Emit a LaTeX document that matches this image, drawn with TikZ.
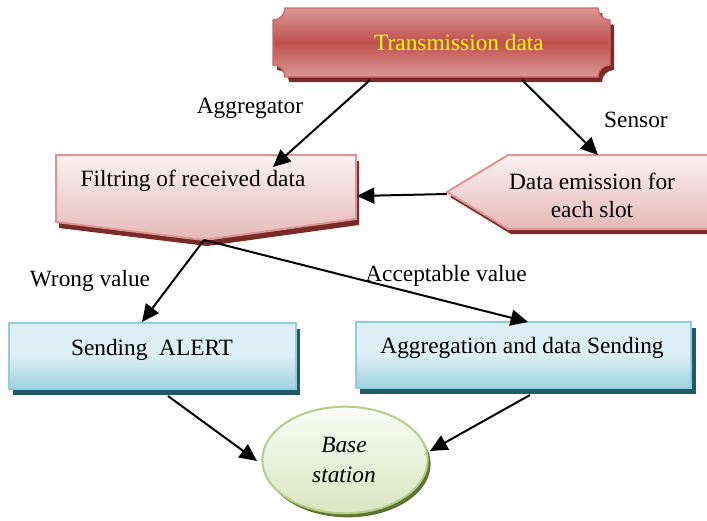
\documentclass[tikz,border=0pt]{standalone}
\usepackage{fontspec}
\setmainfont{Liberation Serif}
\usetikzlibrary{arrows.meta}
\definecolor{plaqueLight}{HTML}{DA9896}
\definecolor{plaqueDark}{HTML}{C0504D}
\definecolor{redShadow}{HTML}{7A2A28}
\definecolor{pinkTop}{HTML}{FBF1F1}
\definecolor{pinkBot}{HTML}{E6B9B8}
\definecolor{pinkEdge}{HTML}{D99694}
\definecolor{blueTop}{HTML}{DDEFF4}
\definecolor{blueBot}{HTML}{9ED2E0}
\definecolor{blueEdge}{HTML}{93CDDD}
\definecolor{blueShadow}{HTML}{215967}
\definecolor{greenTop}{HTML}{FAFCF6}
\definecolor{greenBot}{HTML}{D9E6C0}
\definecolor{greenEdge}{HTML}{B5CC8A}
\definecolor{greenShadow}{HTML}{5E7430}
\definecolor{titleYellow}{HTML}{FFFF00}

% the plaque with hollow corners and the two pointed boxes
\newcommand{\plaque}[1]{\path[#1] (285,8) -- (598,8)
  arc[start angle=180,end angle=270,radius=9pt] -- (610,65)
  arc[start angle=90,end angle=180,radius=9pt] -- (285,77)
  arc[start angle=0,end angle=90,radius=9pt] -- (273,20)
  arc[start angle=270,end angle=360,radius=9pt] -- cycle;}
\newcommand{\filtbox}[1]{\path[#1] (56,155) -- (356,155) -- (356,219)
  -- (204,240) -- (56,222) -- cycle;}
\newcommand{\emitbox}[1]{\path[#1] (447,192) -- (508,155) -- (720,155)
  -- (720,229) -- (508,229) -- cycle;}

\begin{document}
\begin{tikzpicture}[x=0.75pt,y=-0.75pt,
  txt/.style={font=\fontsize{17.5}{21}\selectfont,align=center,inner sep=0pt},
  arr/.style={line width=1.5pt,-{Triangle[length=13pt,width=12pt]}},
  bluebox/.style={draw=blueEdge,line width=1.5pt,top color=blueTop,bottom color=blueBot,middle color=blueTop},
  blueshade/.style={fill=blueShadow}]
\useasboundingbox (0,0) rectangle (707,521);

% Transmission data
\plaque{fill=redShadow,shift={(4,5)}}
\plaque{draw=plaqueDark!85,line width=1pt,top color=plaqueLight,bottom color=plaqueLight,middle color=plaqueDark}
\node[txt,text=titleYellow] (trans) at (459,43) {Transmission data};

% Filtring
\filtbox{fill=redShadow,shift={(3,6)}}
\filtbox{draw=pinkEdge,line width=1.5pt,top color=pinkTop,bottom color=pinkBot}
\node[txt] (filt) at (193,181) {Filtring of received data};

% Data emission
\emitbox{fill=redShadow,shift={(3,5)}}
\emitbox{draw=pinkEdge,line width=1.5pt,top color=pinkTop,bottom color=pinkBot}
\node[txt] (emit) at (592,195) {Data emission for\\each slot};

% lower boxes
\fill[blueshade] (13,329) rectangle (300,395);
\path[bluebox] (9,323) rectangle (296,389);
\node[txt] (alert) at (152,350) {Sending\ \ ALERT};
\fill[blueshade] (360,328) rectangle (696,394);
\path[bluebox] (356,322) rectangle (691,388);
\node[txt] (aggr) at (522,348) {Aggregation and data Sending};

% Base station
\fill[greenShadow] (348,464) ellipse[x radius=62pt,y radius=40pt];
\path[draw=greenEdge,line width=1.5pt,top color=greenTop,bottom color=greenBot] (345,460) ellipse[x radius=62pt,y radius=40pt];
\node[txt,font=\fontsize{17.5}{22}\selectfont\itshape] (base) at (344,460) {Base\\station};

% arrow ends
\coordinate (transL) at (370,80);
\coordinate (transR) at (522,80);
\coordinate (filtT) at (273,167);
\coordinate (filtR) at (357,196);
\coordinate (filtP) at (204,240);
\coordinate (emitT) at (598,155);
\coordinate (emitP) at (447,194);
\coordinate (alertT) at (142,322);
\coordinate (alertB) at (168,396);
\coordinate (aggrT) at (528,322);
\coordinate (aggrB) at (530,395);
\coordinate (baseL) at (257,461);
\coordinate (baseR) at (430,451);

\draw[arr] (transL) -- (filtT);
\draw[arr] (transR) -- (emitT);
\draw[arr] (emitP) -- (filtR);
\draw[arr] (filtP) -- (alertT);
\draw[arr] (filtP) -- (aggrT);
\draw[arr] (alertB) -- (baseL);
\draw[arr] (aggrB) -- (baseR);

% labels
\node[txt] (lagg) at (250,108) {Aggregator};
\node[txt] (lsen) at (636,120) {Sensor};
\node[txt] (lwrong) at (90,281) {Wrong value};
\node[txt] (lacc) at (446,276) {Acceptable value};
\end{tikzpicture}
\end{document}
